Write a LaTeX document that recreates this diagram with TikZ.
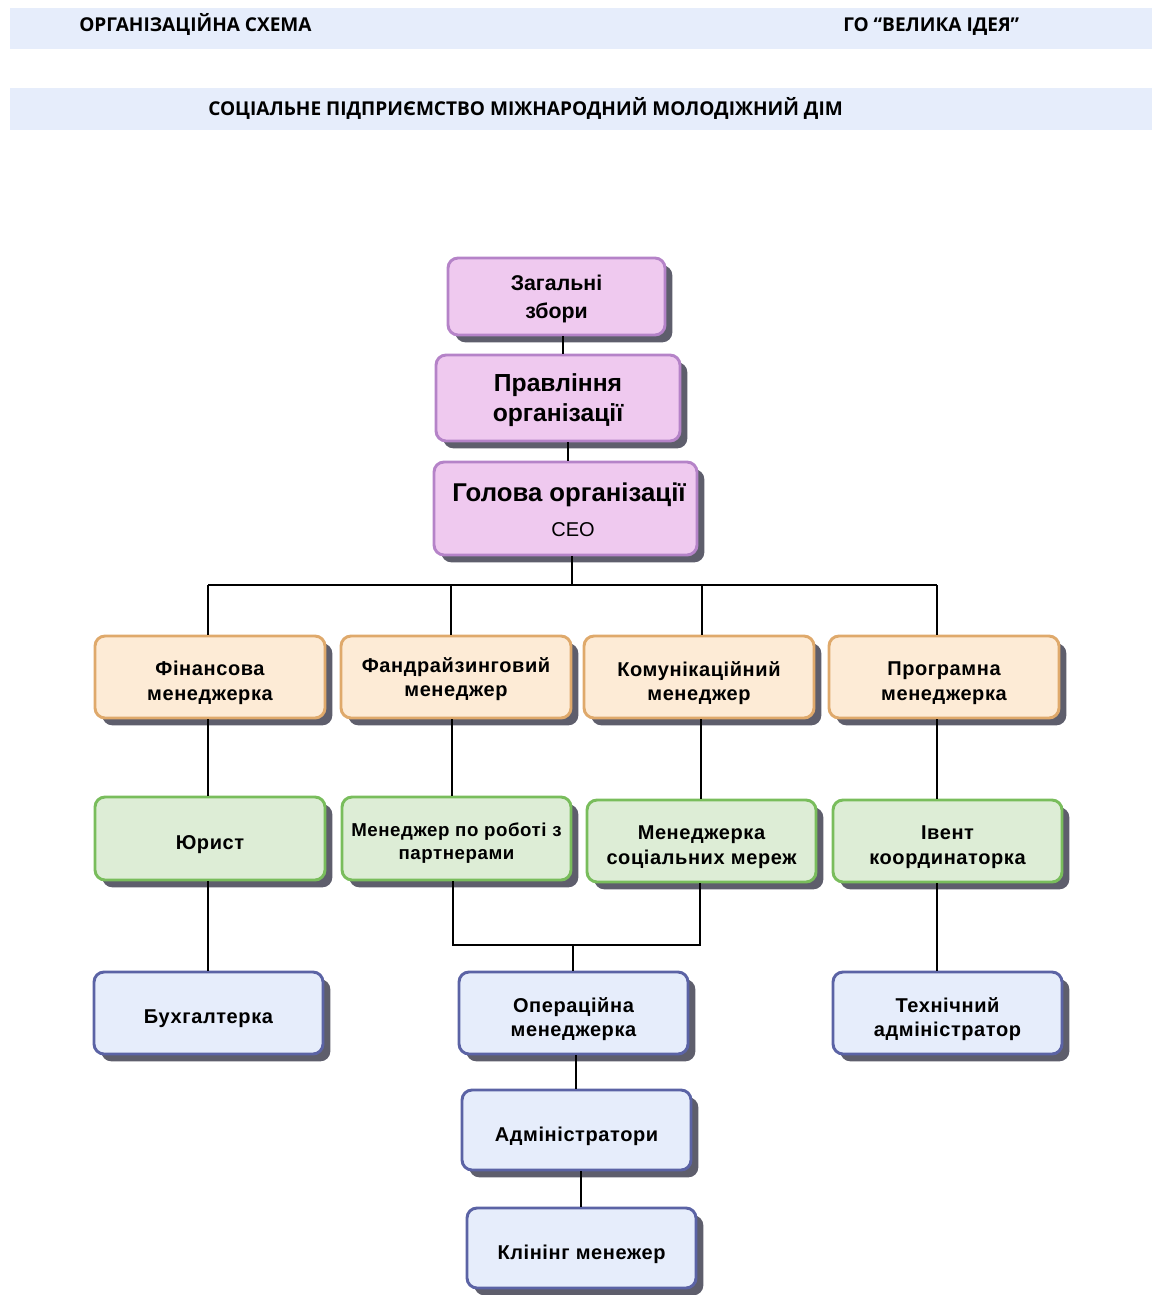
\documentclass[tikz,border=0pt]{standalone}
\usepackage{fontspec}
\setmainfont{Liberation Sans}
\newfontfamily\hdrfont{Open Sans}
\newfontfamily\boxfont[LetterSpace=3]{Liberation Sans}
\usetikzlibrary{shadows}
\definecolor{band}{HTML}{E6EDFB}
\definecolor{pinkf}{HTML}{EFC9EF}
\definecolor{pinkd}{HTML}{B583C8}
\definecolor{peachf}{HTML}{FDEBD6}
\definecolor{peachd}{HTML}{DFA96B}
\definecolor{greenf}{HTML}{DDEDD6}
\definecolor{greend}{HTML}{79BD5C}
\definecolor{bluef}{HTML}{E6EDFB}
\definecolor{blued}{HTML}{5B63A5}
\definecolor{shad}{HTML}{5E5E6C}
\tikzset{
  bx/.style 2 args={rectangle, rounded corners=7.5pt, line width=2.2pt,
    minimum width=#1*0.75pt, minimum height=#2*0.75pt, inner sep=0pt,
    align=center, text=black,
    drop shadow={shadow xshift=5.5pt, shadow yshift=-5.5pt, fill=shad, opacity=1}},
  pinkbox/.style={draw=pinkd, fill=pinkf},
  peachbox/.style={draw=peachd, fill=peachf},
  greenbox/.style={draw=greend, fill=greenf},
  bluebox/.style={draw=blued, fill=bluef},
  lbl/.style={font=\boxfont\bfseries\fontsize{15pt}{18.5pt}\selectfont, align=center, inner sep=0pt, yshift=-4.5pt, text=black},
  plbl/.style={align=center, inner sep=0pt, yshift=-1.5pt, text=black},
  conn/.style={line width=0.95pt, black},
  hdr/.style={font=\hdrfont\bfseries\fontsize{14.3pt}{16pt}\selectfont, anchor=base west, inner sep=0pt}
}
\begin{document}
\begin{tikzpicture}[x=0.75pt, y=-0.75pt]
\useasboundingbox (0,0) rectangle (1152,1295);
% header bands
\fill[band] (10,8) rectangle (1152,49);
\fill[band] (10,88) rectangle (1152,130);
\node[hdr] (h1) at (79,32) {ОРГАНІЗАЦІЙНА СХЕМА};
\node[hdr] (h2) at (843,32) {ГО “ВЕЛИКА ІДЕЯ”};
\node[hdr] (h3) at (208,115) {СОЦІАЛЬНЕ ПІДПРИЄМСТВО МІЖНАРОДНИЙ МОЛОДІЖНИЙ ДІМ};
% top chain
\node[bx={217}{77}, pinkbox, label={[plbl, font=\bfseries\fontsize{16pt}{21pt}\selectfont]center:{Загальні\\збори}}] (zb) at (556.5,296.5) {};
\node[bx={244}{86}, pinkbox, label={[plbl, font=\bfseries\fontsize{18.5pt}{23pt}\selectfont]center:{Правління\\організації}}] (pr) at (558,398) {};
\node[bx={263}{93}, pinkbox] (ceo) at (565.5,508.5) {};
\node[font=\bfseries\fontsize{19.3pt}{22pt}\selectfont, inner sep=0pt] (ceot) at (569,495) {Голова організації};
\node[font=\fontsize{15pt}{18pt}\selectfont, inner sep=0pt] (ceos) at (573,530) {CEO};
% row 2
\node[bx={230}{82}, peachbox, label={[lbl]center:{Фінансова\\менеджерка}}] (fin) at (210,677) {};
\node[bx={230}{82}, peachbox, label={[lbl, yshift=3pt]center:{Фандрайзинговий\\менеджер}}] (fund) at (456,677) {};
\node[bx={230}{82}, peachbox, label={[lbl]center:{Комунікаційний\\менеджер}}] (com) at (699,677) {};
\node[bx={230}{82}, peachbox, label={[lbl]center:{Програмна\\менеджерка}}] (prog) at (944,677) {};
% row 3
\node[bx={230}{83}, greenbox, label={[lbl]center:{Юрист}}] (jur) at (210,838.5) {};
\node[bx={229}{83}, greenbox, label={[lbl, font=\boxfont\bfseries\fontsize{14pt}{17.5pt}\selectfont, yshift=1pt]center:{Менеджер по роботі з\\партнерами}}] (part) at (456.5,838.5) {};
\node[bx={229}{82}, greenbox, label={[lbl]center:{Менеджерка\\соціальних мереж}}] (smm) at (701.5,841) {};
\node[bx={229}{82}, greenbox, label={[lbl]center:{Івент\\координаторка}}] (event) at (947.5,841) {};
% row 4
\node[bx={229}{82}, bluebox, label={[lbl]center:{Бухгалтерка}}] (buh) at (208.5,1013) {};
\node[bx={229}{82}, bluebox, label={[lbl]center:{Операційна\\менеджерка}}] (oper) at (573.5,1013) {};
\node[bx={229}{82}, bluebox, label={[lbl]center:{Технічний\\адміністратор}}] (tech) at (947.5,1013) {};
\node[bx={229}{80}, bluebox, label={[lbl]center:{Адміністратори}}] (adm) at (576.5,1130) {};
\node[bx={229}{80}, bluebox, label={[lbl]center:{Клінінг менежер}}] (clean) at (581.5,1248) {};
% connectors
\coordinate (busC) at (572,585);
\coordinate (busL) at (208,585);
\coordinate (busR) at (937,585);
\coordinate (b2) at (451,585);
\coordinate (b3) at (702,585);
\coordinate (jL) at (453,945);
\coordinate (jR) at (700,945);
\coordinate (jM) at (573,945);
\draw[conn] (zb.south -| 563,0) -- (pr.north -| 563,0);
\draw[conn] (pr.south -| 568,0) -- (ceo.north -| 568,0);
\draw[conn] (ceo.south -| busC) -- (busC);
\draw[conn] (busL) -- (busR);
\draw[conn] (busL) -- (fin.north -| busL);
\draw[conn] (b2) -- (fund.north -| b2);
\draw[conn] (b3) -- (com.north -| b3);
\draw[conn] (busR) -- (prog.north -| busR);
\draw[conn] (fin.south -| 208,0) -- (jur.north -| 208,0);
\draw[conn] (fund.south -| 452,0) -- (part.north -| 452,0);
\draw[conn] (com.south -| 701,0) -- (smm.north -| 701,0);
\draw[conn] (prog.south -| 937,0) -- (event.north -| 937,0);
\draw[conn] (jur.south -| 208,0) -- (buh.north -| 208,0);
\draw[conn] (part.south -| jL) -- (jL) -- (jR) -- (smm.south -| jR);
\draw[conn] (jM) -- (oper.north -| jM);
\draw[conn] (event.south -| 937,0) -- (tech.north -| 937,0);
\draw[conn] (oper.south -| 576,0) -- (adm.north -| 576,0);
\draw[conn] (adm.south -| 581,0) -- (clean.north -| 581,0);
\end{tikzpicture}
\end{document}
